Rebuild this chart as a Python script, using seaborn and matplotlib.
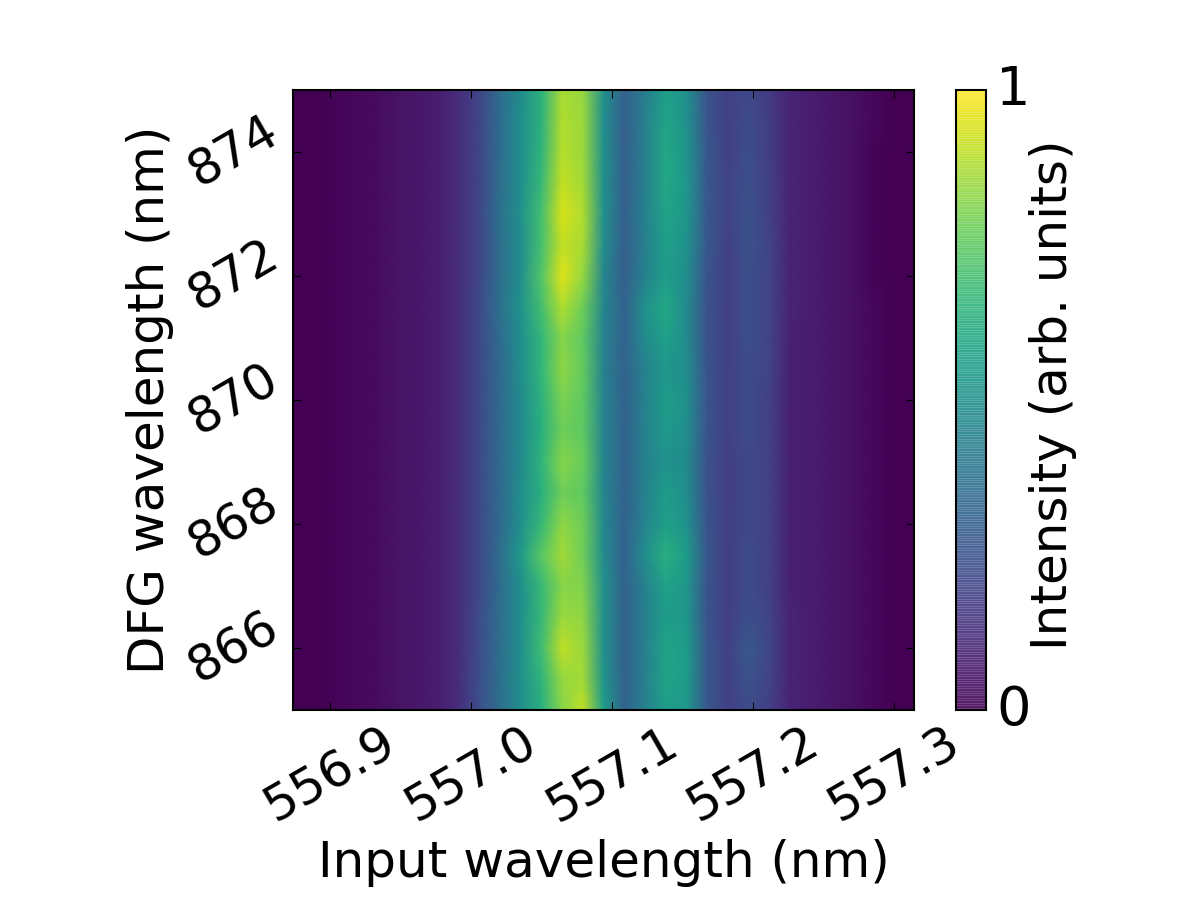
import matplotlib
matplotlib.use("Agg")
import matplotlib.pyplot as plt
from matplotlib.transforms import ScaledTranslation
import numpy as np
import seaborn as sns

# Input wavelength of the first and last scan columns (nm)
input_start = 556.874
input_stop = 557.314
# DFG wavelength of the first and last scan rows, top to bottom (nm)
dfg_top = 875.0
dfg_bottom = 865.0

x_ticks = [556.9, 557.0, 557.1, 557.2, 557.3]
y_ticks = [866, 868, 870, 872, 874]

# Normalised intensity: one row per DFG step (875 nm down to 865 nm in 0.5 nm),
# one column per input wavelength step
intensity = [
    [.00,.00,.01,.02,.03,.05,.06,.08,.13,.21,.35,.48,.64,.87,.84,.50,.31,.42,.56,.50,.26,.19,.22,.17,.10,.08,.06,.04,.02,.00,.00],
    [.00,.00,.01,.02,.03,.05,.06,.08,.13,.21,.35,.49,.64,.88,.85,.49,.30,.43,.58,.51,.26,.19,.23,.18,.10,.08,.06,.04,.02,.00,.00],
    [.00,.00,.01,.02,.03,.05,.06,.08,.13,.21,.35,.49,.65,.89,.85,.50,.30,.43,.60,.52,.27,.19,.24,.18,.10,.08,.06,.04,.01,.00,.00],
    [.00,.00,.01,.02,.03,.05,.06,.08,.13,.21,.36,.49,.67,.91,.86,.50,.30,.43,.60,.53,.27,.20,.24,.19,.10,.08,.06,.04,.01,.00,.00],
    [.00,.00,.01,.02,.03,.05,.06,.08,.13,.21,.37,.50,.70,.94,.88,.50,.30,.44,.58,.53,.27,.20,.25,.19,.10,.08,.06,.04,.01,.00,.00],
    [.00,.00,.01,.02,.03,.05,.06,.08,.13,.21,.36,.49,.70,.91,.87,.49,.30,.43,.56,.51,.27,.19,.25,.20,.10,.08,.06,.04,.01,.00,.00],
    [.00,.00,.01,.02,.03,.05,.06,.08,.13,.21,.36,.49,.73,.95,.84,.46,.30,.44,.55,.49,.26,.19,.24,.20,.10,.08,.06,.04,.01,.00,.00],
    [.00,.00,.01,.02,.03,.05,.06,.08,.13,.22,.37,.51,.70,.88,.78,.46,.31,.50,.60,.48,.25,.19,.24,.20,.10,.08,.06,.04,.02,.00,.00],
    [.00,.00,.01,.02,.03,.05,.06,.08,.13,.22,.35,.49,.66,.82,.75,.44,.31,.48,.57,.48,.25,.19,.24,.20,.09,.08,.06,.04,.02,.00,.00],
    [.00,.00,.01,.02,.03,.05,.06,.08,.13,.22,.34,.49,.66,.83,.76,.44,.31,.44,.53,.49,.26,.19,.23,.20,.09,.08,.06,.04,.02,.00,.00],
    [.00,.00,.01,.02,.03,.05,.06,.08,.13,.22,.34,.48,.64,.80,.75,.45,.31,.44,.55,.50,.26,.19,.23,.19,.09,.08,.06,.04,.02,.00,.00],
    [.00,.00,.01,.02,.03,.05,.06,.08,.13,.22,.34,.48,.63,.78,.75,.45,.31,.44,.54,.49,.26,.19,.23,.19,.09,.08,.06,.04,.02,.00,.00],
    [.00,.00,.01,.02,.03,.05,.06,.08,.13,.22,.34,.48,.65,.82,.77,.46,.31,.44,.51,.48,.25,.18,.22,.19,.09,.08,.06,.04,.02,.00,.00],
    [.00,.00,.01,.02,.03,.05,.06,.08,.13,.22,.34,.49,.63,.78,.75,.46,.31,.44,.55,.49,.25,.18,.22,.19,.09,.08,.06,.04,.02,.00,.00],
    [.00,.00,.01,.02,.03,.05,.06,.08,.13,.22,.34,.49,.67,.83,.78,.47,.31,.45,.56,.51,.26,.18,.22,.19,.09,.08,.06,.04,.02,.00,.00],
    [.00,.00,.01,.02,.03,.05,.06,.08,.13,.22,.36,.54,.74,.86,.78,.48,.31,.49,.63,.55,.27,.18,.23,.19,.09,.08,.06,.04,.02,.00,.00],
    [.00,.00,.01,.02,.03,.05,.06,.08,.13,.22,.35,.49,.67,.82,.81,.50,.31,.44,.57,.53,.26,.18,.23,.19,.09,.08,.06,.04,.02,.00,.00],
    [.00,.00,.01,.02,.03,.05,.06,.08,.13,.23,.36,.49,.67,.85,.83,.50,.31,.43,.55,.53,.26,.18,.24,.20,.10,.08,.06,.04,.02,.00,.00],
    [.00,.00,.01,.02,.03,.05,.06,.08,.13,.23,.36,.49,.69,.90,.85,.50,.31,.43,.58,.55,.27,.19,.27,.21,.10,.08,.06,.04,.02,.00,.00],
    [.00,.00,.01,.02,.03,.05,.06,.08,.13,.24,.36,.50,.65,.84,.86,.52,.31,.43,.58,.55,.27,.19,.25,.20,.10,.08,.06,.04,.02,.00,.00],
    [.00,.00,.01,.02,.03,.05,.06,.08,.13,.24,.36,.49,.63,.82,.91,.56,.32,.43,.55,.53,.27,.19,.23,.19,.10,.08,.06,.04,.02,.00,.00],
]

plt.rcParams["font.family"] = ["DejaVu Sans"]
plt.rcParams["font.size"] = 24

fig = plt.figure(figsize=(8, 6), dpi=150)
ax = fig.add_axes([293 / 1200, 1 - 710 / 900, 621 / 1200, 620 / 900])
cax = fig.add_axes([956 / 1200, 1 - 710 / 900, 30 / 1200, 620 / 900])

values = np.array(intensity)
n_rows, n_cols = values.shape

sns.heatmap(
    values, ax=ax, cbar_ax=cax, cmap="viridis", vmin=0, vmax=1,
    shading="gouraud", square=False,
    cbar_kws={"ticks": [0, 1], "drawedges": True},
)

# Map physical wavelengths onto the heatmap's index coordinates
def x_pos(w):
    return (np.asarray(w) - input_start) / (input_stop - input_start) * (n_cols - 1)

def y_pos(w):
    return (dfg_top - np.asarray(w)) / (dfg_top - dfg_bottom) * (n_rows - 1)

ax.set_xlim(0, n_cols - 1)
ax.set_ylim(n_rows - 1, 0)

ax.set_xticks(x_pos(x_ticks))
ax.set_xticklabels([f"{t:.1f}" for t in x_ticks], rotation=30, ha="center", va="top", fontsize=24)
ax.set_yticks(y_pos(y_ticks))
ax.set_yticklabels([str(t) for t in y_ticks], rotation=30, va="center", ha="right", fontsize=24)

ax.tick_params(axis="both", which="major", direction="in", length=4, width=0.5,
               top=True, right=True, color="black")
ax.tick_params(axis="x", pad=4)
ax.tick_params(axis="y", pad=3)
ax.set_xlabel("Input wavelength (nm)", fontsize=24, labelpad=3.5)
ax.set_ylabel("DFG wavelength (nm)", fontsize=24, labelpad=3)

for spine in ax.spines.values():
    spine.set_visible(True)
    spine.set_linewidth(1.0)
    spine.set_color("black")

# Colour bar: faint light seams between the levels
cbar = ax.collections[0].colorbar
cbar.solids.set_alpha(0.9)
cbar.dividers.set_color("white")
cbar.dividers.set_alpha(0.22)
cbar.dividers.set_linewidth(0.35)
cbar.ax.tick_params(length=0, labelsize=26, pad=5)
cbar.set_ticklabels(["0", "1"])
# Nudge the end labels up a little off the bar's ends
for label in cbar.ax.get_yticklabels():
    label.set_transform(label.get_transform() + ScaledTranslation(0, 2.5 / 72, fig.dpi_scale_trans))
cbar.set_label("Intensity (arb. units)", fontsize=24, labelpad=-1, y=0.508)
cbar.outline.set_visible(True)
cbar.outline.set_linewidth(1.0)
cbar.outline.set_edgecolor("black")

fig.savefig("out.png", dpi=150, facecolor="white")
